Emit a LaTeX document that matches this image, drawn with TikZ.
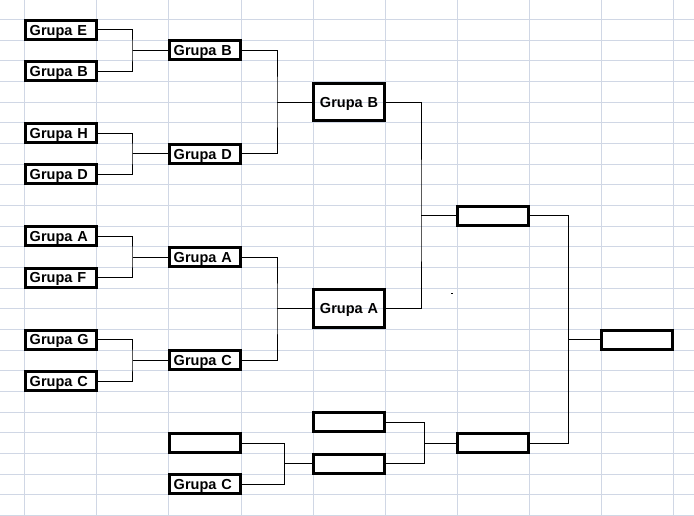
\documentclass[tikz,border=0pt]{standalone}
\usepackage{fontspec}
\setmainfont{Liberation Sans}
\definecolor{rejilla}{HTML}{D0D7E5}
\begin{document}
\begin{tikzpicture}[x=72pt,y=-20.66pt,
  grupa/.style={draw,line width=3pt,minimum width=70.5pt,minimum height=19pt,inner xsep=4pt,inner ysep=0pt,
    text width=62.5pt,text height=10.5pt,text depth=0pt,font=\fontsize{14.5}{17}\selectfont\bfseries},
  grande/.style={grupa,minimum height=37.6pt,align=center},
  linea/.style={line width=1pt}]
\useasboundingbox (-0.3472,-0.9439) rectangle (9.2917,24.032);
% rejilla
\foreach \x in {0,...,9} \draw[rejilla,line width=1pt] (\x,-0.9439)--(\x,24.032);
\foreach \y in {0,...,24} \draw[rejilla,line width=1pt] (-0.3472,\y)--(9.2917,\y);

\node[grupa] (E) at (0.5,0.5){Grupa E};
\node[grupa] (B) at (0.5,2.5){Grupa B};
\node[grupa] (H) at (0.5,5.5){Grupa H};
\node[grupa] (D) at (0.5,7.5){Grupa D};
\node[grupa] (A) at (0.5,10.5){Grupa A};
\node[grupa] (F) at (0.5,12.5){Grupa F};
\node[grupa] (G) at (0.5,15.5){Grupa G};
\node[grupa] (C) at (0.5,17.5){Grupa C};

\node[grupa] (B1) at (2.5,1.5){Grupa B};
\node[grupa] (D1) at (2.5,6.5){Grupa D};
\node[grupa] (A1) at (2.5,11.5){Grupa A};
\node[grupa] (C1) at (2.5,16.5){Grupa C};
\node[grupa] (L1) at (2.5,20.5){};
\node[grupa] (C2) at (2.5,22.5){Grupa C};

\node[grande] (B2) at (4.5,4){Grupa B};
\node[grande] (A2) at (4.5,14){Grupa A};
\node[grupa] (L2) at (4.5,19.5){};
\node[grupa] (L3) at (4.5,21.5){};

\node[grupa] (F1) at (6.5,9.5){};
\node[grupa] (F2) at (6.5,20.5){};
\node[grupa] (W) at (8.5,15.5){};

\coordinate (j1) at (1.5,1.5);  \coordinate (j2) at (1.5,6.5);
\coordinate (j3) at (1.5,11.5); \coordinate (j4) at (1.5,16.5);
\coordinate (j5) at (3.5,4);    \coordinate (j6) at (3.5,14);
\coordinate (j7) at (5.5,9.5);  \coordinate (j8) at (3.6,21.5);
\coordinate (j9) at (5.55,20.5); \coordinate (j10) at (7.55,15.5);

\draw[linea](E)-|(j1)|-(B)  (j1)--(B1);
\draw[linea](H)-|(j2)|-(D)  (j2)--(D1);
\draw[linea](A)-|(j3)|-(F)  (j3)--(A1);
\draw[linea](G)-|(j4)|-(C)  (j4)--(C1);
\draw[linea](B1)-|(j5)|-(D1)  (j5)--(B2);
\draw[linea](A1)-|(j6)|-(C1)  (j6)--(A2);
\draw[linea](B2)-|(j7)|-(A2)  (j7)--(F1);
\draw[linea](L1)-|(j8)|-(C2)  (j8)--(L3);
\draw[linea](L2)-|(j9)|-(L3)  (j9)--(F2);
\draw[linea](F1)-|(j10)|-(F2)  (j10)--(W);

\fill (5.912,13.23) rectangle ++(0.03,0.05);
\end{tikzpicture}
\end{document}
